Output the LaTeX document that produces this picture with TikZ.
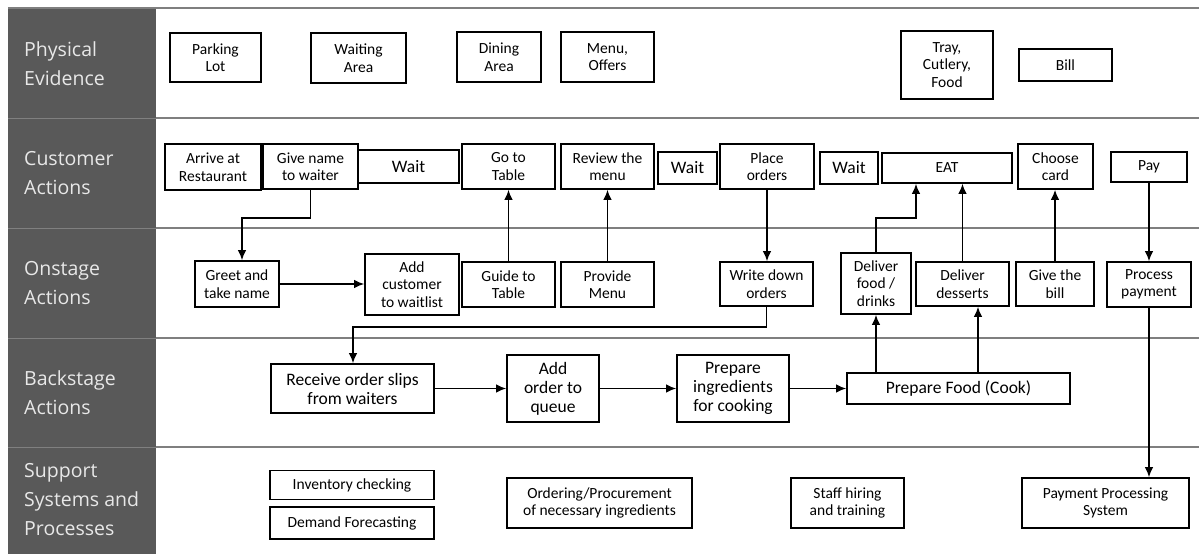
\documentclass[tikz,border=0pt]{standalone}
\usepackage{fontspec}
\setmainfont{Carlito}
\newfontfamily\lanefont{Open Sans}
\usetikzlibrary{arrows.meta}
\definecolor{lanebg}{HTML}{595959}
\definecolor{lanetxt}{HTML}{E8E8E8}
\definecolor{laneline}{HTML}{7F7F7F}
\definecolor{lanesep}{HTML}{808080}
\begin{document}
\begin{tikzpicture}[x=1pt,y=-1pt,
  box/.style={draw=black, line width=1.6pt, fill=white, align=center, inner sep=0pt,
    font=\fontsize{15.5}{17.5}\selectfont},
  bx/.style n args={2}{box, minimum width=#1pt, minimum height=#2pt},
  bigtxt/.style={font=\fontsize{17.5}{19}\selectfont},
  arr/.style={line width=1.6pt, -{Latex[length=10pt,width=8.5pt]}},
  lanelbl/.style={anchor=west, align=left, text=lanetxt, inner sep=0pt,
    font=\lanefont\fontsize{19.5}{29}\selectfont},
  laneln/.style={draw=laneline, line width=1.2pt},
]
\useasboundingbox (0,0) rectangle (1199,554);
\fill[white] (0,0) rectangle (1199,554);
% lane header column
\fill[lanebg] (8,8) rectangle (156,554);
\foreach \yy in {118,228,338,447}{
  \draw[draw=lanesep, line width=1pt] (8,\yy) -- (156,\yy);
  \draw[laneln] (156,\yy) -- (1199,\yy);
}
\draw[laneln] (8,8) -- (1199,8);
% lane labels
\node[lanelbl] (lpe) at (24,64) {Physical\\Evidence};
\node[lanelbl] (lca) at (24,173) {Customer\\Actions};
\node[lanelbl] (loa) at (24,283) {Onstage\\Actions};
\node[lanelbl] (lba) at (24,393) {Backstage\\Actions};
\node[lanelbl] (lss) at (24,500) {Support\\Systems and\\Processes};

% Physical evidence
\node[bx={91}{49}] (parking) at (215.5,57.5) {Parking\\Lot};
\node[bx={95}{50}] (waiting) at (358.5,58) {Waiting\\Area};
\node[bx={84}{50}] (dining) at (499,57) {Dining\\Area};
\node[bx={93}{50}] (menu) at (607.5,57) {Menu,\\Offers};
\node[bx={92}{68}] (tray) at (947,65) {Tray,\\Cutlery,\\Food};
\node[bx={93}{32}] (bill) at (1065.5,65) {Bill};

% Customer actions
\node[bx={96}{46}] (arrive) at (213,167) {Arrive at\\Restaurant};
\node[bx={95}{45}] (givename) at (310.5,166.5) {Give name\\to waiter};
\node[bx={101}{33}, bigtxt] (wait1) at (408.5,166.5) {Wait};
\node[bx={93}{45}] (gotable) at (508.5,166.5) {Go to\\Table};
\node[bx={93}{45}] (review) at (607.5,166.5) {Review the\\menu};
\node[bx={59}{32}, bigtxt] (wait2) at (687.5,168) {Wait};
\node[bx={94}{45}] (place) at (767,166.5) {Place\\orders};
\node[bx={58}{32}, bigtxt] (wait3) at (849,168) {Wait};
\node[bx={130}{30}] (eat) at (947,168) {EAT};
\node[bx={75}{45}] (choose) at (1055.5,166.5) {Choose\\card};
\node[bx={76}{30}] (pay) at (1149,167) {Pay};

% Onstage actions
\node[bx={84}{46}] (greet) at (237,284) {Greet and\\take name};
\node[bx={94}{61}] (addcust) at (412,284.5) {Add\\customer\\to waitlist};
\node[bx={93}{45}] (guide) at (508.5,284.5) {Guide to\\Table};
\node[bx={93}{45}] (provide) at (607.5,284.5) {Provide\\Menu};
\node[bx={93}{44}] (writedown) at (766.5,284) {Write down\\orders};
\node[bx={70}{61}] (delfood) at (876,283.5) {Deliver\\food /\\drinks};
\node[bx={93}{44}] (deldess) at (962.5,284) {Deliver\\desserts};
\node[bx={78}{44}] (givebill) at (1055,284) {Give the\\bill};
\node[bx={84}{45}] (procpay) at (1149,284.5) {Process\\payment};

% Backstage actions
\node[bx={163}{49}, bigtxt] (receive) at (352.5,388.5) {Receive order slips\\from waiters};
\node[bx={92}{67}, bigtxt] (addorder) at (553,388.5) {Add\\order to\\queue};
\node[bx={112}{67}, bigtxt] (preping) at (733,388.5) {Prepare\\ingredients\\for cooking};
\node[bx={223}{31}, bigtxt] (prepfood) at (958.5,388.5) {Prepare Food (Cook)};

% Support systems
\node[bx={164}{29}] (inventory) at (352,485) {Inventory checking};
\node[bx={164}{32}] (demand) at (352,523) {Demand Forecasting};
\node[bx={185}{50}] (ordering) at (599.5,503) {Ordering/Procurement\\of necessary ingredients};
\node[bx={113}{50}] (staff) at (847.5,503) {Staff hiring\\and training};
\node[bx={167}{50}] (paysys) at (1105.5,503) {Payment Processing\\System};

% connectors
\coordinate (c1) at (242,218);
\coordinate (c2) at (916,218);
\coordinate (c4) at (353,327);
\coordinate (dd) at (978,0);

\draw[arr] (givename.south) |- (c1) -- (greet.north -| c1);
\draw[arr] (greet.east) -- (greet.east -| addcust.west);
\draw[arr] (guide.north) -- (gotable.south);
\draw[arr] (provide.north) -- (review.south);
\draw[arr] (place.south) -- (writedown.north -| place.south);
\draw[arr] (writedown.south) |- (c4) -- (receive.north -| c4);
\draw[arr] (receive.east) -- (addorder.west);
\draw[arr] (addorder.east) -- (preping.west);
\draw[arr] (preping.east) -- (prepfood.west);
\draw[arr] (prepfood.north -| delfood.south) -- (delfood.south);
\draw[arr] (prepfood.north -| dd) -- (deldess.south -| dd);
\draw[arr] (delfood.north) |- (c2) -- (eat.south -| c2);
\draw[arr] (deldess.north) -- (eat.south -| deldess.north);
\draw[arr] (givebill.north) -- (choose.south -| givebill.north);
\draw[arr] (pay.south) -- (procpay.north -| pay.south);
\draw[arr] (procpay.south) -- (paysys.north -| procpay.south);
\end{tikzpicture}
\end{document}
